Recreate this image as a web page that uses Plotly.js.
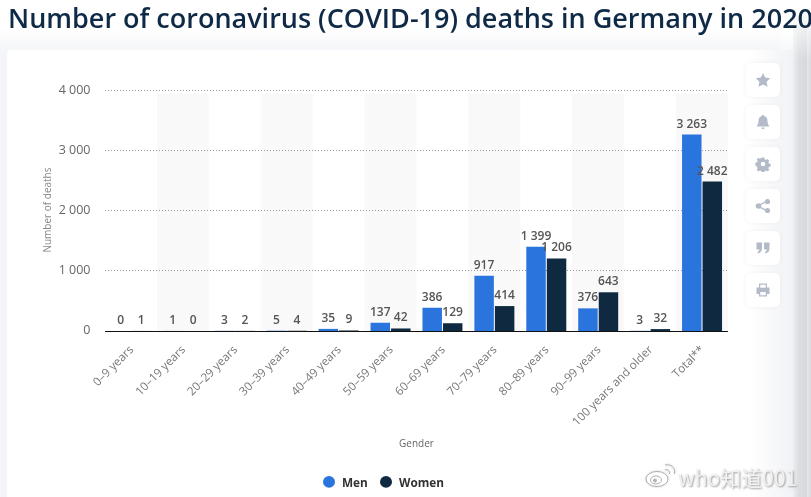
<!DOCTYPE html>
<html><head><meta charset="utf-8">
<script src="https://cdn.plot.ly/plotly-3.0.1.min.js"></script>
<style>
html,body{margin:0;padding:0;width:811px;height:497px;overflow:hidden;background:#fff}
#bg{position:absolute;left:0;top:0;width:811px;height:497px;background:linear-gradient(#fff 0,#fff 28px,#f4f5f8 52px)}
#edge{position:absolute;left:793px;top:0;width:18px;height:497px;background:linear-gradient(90deg,#eceef1,#dcdee2 30%,#d6d8dc 75%,#e4e6e9 80%,#d8dade)}
#edgefade{position:absolute;left:780px;top:0;width:31px;height:60px;background:linear-gradient(#fff 0,#fff 8px,rgba(255,255,255,0) 60px)}
#card{position:absolute;left:7px;top:50px;width:786px;height:447px;background:#fff;border-radius:4px 4px 0 0}
#cardfade{position:absolute;left:750px;top:50px;width:43px;height:447px;background:linear-gradient(90deg,rgba(240,241,244,0),#f1f2f5)}
.b{position:absolute;left:746px;width:34px;height:34px;background:#fff;border-radius:5px;box-shadow:0 0 5px rgba(60,70,90,.07)}
.b svg{position:absolute;left:9px;top:9px;width:16px;height:16px;fill:#b3bbc8}
#plot{position:absolute;left:0;top:0;width:811px;height:497px;will-change:transform}
#wb{position:absolute;left:645px;top:462px;width:32px;height:26px;filter:drop-shadow(0 0 1px #ccc)}
</style></head><body>
<div id="bg"></div><div id="edge"></div><div id="edgefade"></div><div id="card"></div><div id="cardfade"></div>
<div class="b" style="top:63px"><svg viewBox="0 0 16 16"><path d="M8 1l2.200 4.600 5 .7-3.600 3.500.9 5L8 12.400l-4.500 2.400.9-5L.8 6.300l5-.7z"/></svg></div>
<div class="b" style="top:105px"><svg viewBox="0 0 16 16"><path d="M8 1c.7 0 1.200.5 1.200 1.100C11.500 2.700 12.500 4.700 12.500 7c0 3 1 4 2 5.500h-13C2.500 11 3.500 10 3.500 7c0-2.300 1-4.300 3.300-4.900C6.800 1.500 7.300 1 8 1zM6.300 13.500h3.400C9.600 14.500 8.900 15 8 15s-1.600-.5-1.700-1.500z"/></svg></div>
<div class="b" style="top:147px"><svg viewBox="0 0 16 16"><path fill-rule="evenodd" d="M6.700 1.500h2.600l.4 1.800 1.400.6 1.500-1 1.700 1.700-1 1.500.6 1.400 1.800.4v2.600l-1.800.4-.6 1.400 1 1.500-1.700 1.700-1.500-1-1.400.6-.4 1.800H6.700l-.4-1.800-1.400-.6-1.500 1-1.700-1.700 1-1.500-.6-1.400L.3 9.300V6.700l1.800-.4.6-1.400-1-1.500 1.700-1.700 1.500 1 1.400-.6zM8 5.700a2.300 2.300 0 1 0 0 4.600 2.300 2.300 0 0 0 0-4.600z"/></svg></div>
<div class="b" style="top:189px"><svg viewBox="0 0 16 16"><circle cx="3.500" cy="8" r="2.800"/><circle cx="12.500" cy="3.500" r="2.600"/><circle cx="12.500" cy="12.500" r="2.600"/><path d="M3 7l9-4.500.6 1.200-9 4.500zM3.600 7.800l9 4.500-.6 1.200-9-4.500z"/></svg></div>
<div class="b" style="top:231px"><svg viewBox="0 0 16 16"><path d="M1.500 2.500h5.500v6c0 2.500-1.500 4.500-4 5l-.6-1.500c1.200-.4 1.900-1.300 2-2.500H1.500zM9 2.500h5.500v6c0 2.500-1.500 4.500-4 5l-.6-1.500c1.200-.4 1.900-1.300 2-2.500H9z"/></svg></div>
<div class="b" style="top:273px"><svg viewBox="0 0 16 16"><path fill-rule="evenodd" d="M4 1.500h8v4h2.500v6.500H12v2.500H4V12H1.500V5.500H4zM5.300 2.800v3h5.400v-3zM5.300 10v3.200h5.400V10z"/></svg></div>
<div id="plot"></div>
<svg id="wb" viewBox="0 0 32 26" fill="none" stroke="#b0b0b0" stroke-width="1"><ellipse cx="12" cy="17" rx="11" ry="7.500" fill="#fff"/><ellipse cx="11" cy="18" rx="5.500" ry="4"/><circle cx="10" cy="18.500" r="1.500" fill="#b0b0b0"/><path d="M20 8c3-1 5 1 4.500 4M20 3c6-1.500 11 3 9.500 9"/></svg>
<script>
var categories=["0–9 years","10–19 years","20–29 years","30–39 years","40–49 years","50–59 years","60–69 years","70–79 years","80–89 years","90–99 years","100 years and older","Total**"];
var men=[0,1,3,5,35,137,386,917,1399,376,3,3263];
var women=[1,0,2,4,9,42,129,414,1206,643,32,2482];
var yTicks=[0,1000,2000,3000,4000];
var titleText="Number of coronavirus (COVID-19) deaths in Germany in 2020";
var seriesNames=["Men","Women"];
var seriesColors=["#2a74de","#0f2a40"];
var fontFamily='"Open Sans", sans-serif';
var labelFont={family:fontFamily,size:12,color:'#555',weight:600};
function barTrace(name,y,color){return {type:'bar',name:name,x:categories,y:y,marker:{color:color},showlegend:false,
  texttemplate:'%{y:,}',textposition:'outside',textangle:0,constraintext:'none',cliponaxis:false,textfont:labelFont,outsidetextfont:labelFont,hoverinfo:'skip'};}
var traces=[barTrace(seriesNames[0],men,seriesColors[0]),barTrace(seriesNames[1],women,seriesColors[1])];
var plotL=105,plotW=623,plotT=88.800,plotB=331,plotH=plotB-plotT;
function px(x){return (x-plotL)/plotW;}
function py(y){return (plotB-y)/plotH;}
var shapes=[];
categories.forEach(function(c,i){if(i%2===1)shapes.push({type:'rect',layer:'below',xref:'x',yref:'y',x0:i-0.5,x1:i+0.5,y0:0,y1:3950,fillcolor:'#f9f9fa',line:{width:0}});});
var annotations=[
 {xref:'paper',yref:'paper',x:px(7),xanchor:'left',y:py(17),yanchor:'middle',showarrow:false,xshift:-1,text:titleText,font:{family:fontFamily,size:27,color:'#0f2a47',weight:600}},
 {xref:'paper',yref:'paper',x:px(799),xanchor:'right',y:py(477),yanchor:'middle',showarrow:false,text:'who知道001',font:{family:'"Noto Sans CJK SC","Noto Sans",sans-serif',size:21,color:'#f1f1f1',shadow:'1px 1px 2px #999'}}
];
[[329,341],[386,398]].forEach(function(p,i){
 shapes.push({type:'circle',xref:'paper',yref:'paper',x0:px(p[0]-6),x1:px(p[0]+6),y0:py(482+6),y1:py(482-6),fillcolor:seriesColors[i],line:{width:0}});
 annotations.push({xref:'paper',yref:'paper',x:px(p[1]),xanchor:'left',y:py(482),yanchor:'middle',showarrow:false,xshift:-1,text:seriesNames[i],font:{family:fontFamily,size:11.800,color:'#333',weight:700}});
});
var layout={width:811,height:497,autosize:false,paper_bgcolor:'rgba(0,0,0,0)',plot_bgcolor:'rgba(0,0,0,0)',showlegend:false,
 margin:{l:plotL,r:811-plotL-plotW,t:plotT,b:497-plotB,pad:0},separators:'. ',
 font:{family:fontFamily,color:'#666'},
 barmode:'group',bargap:0.21,bargroupgap:0.05,shapes:shapes,annotations:annotations,
 xaxis:{type:'category',categoryorder:'array',categoryarray:categories,range:[-0.5,11.5],fixedrange:true,tickangle:-45,tickfont:{family:fontFamily,size:11.700,color:'#777'},ticks:'outside',ticklen:6,tickcolor:'rgba(0,0,0,0)',ticklabelshift:-1,showgrid:false,zeroline:false,showline:true,linecolor:'#111',linewidth:1,
   title:{text:'Gender',font:{family:fontFamily,size:10,color:'#666'},standoff:12},automargin:false},
 yaxis:{range:[0,4020],fixedrange:true,tickvals:yTicks,tickformat:',',tickfont:{family:fontFamily,size:12.500,color:'#666'},ticks:'outside',ticklen:11,tickcolor:'rgba(0,0,0,0)',ticklabelshift:-1,showline:false,zeroline:false,showgrid:true,gridcolor:'#999',griddash:'1px,2px',gridwidth:1,
   title:{text:'Number of deaths',font:{family:fontFamily,size:10,color:'#888'},standoff:5},automargin:false}
};
Plotly.newPlot('plot',traces,layout,{displayModeBar:false,staticPlot:true});
</script></body></html>
